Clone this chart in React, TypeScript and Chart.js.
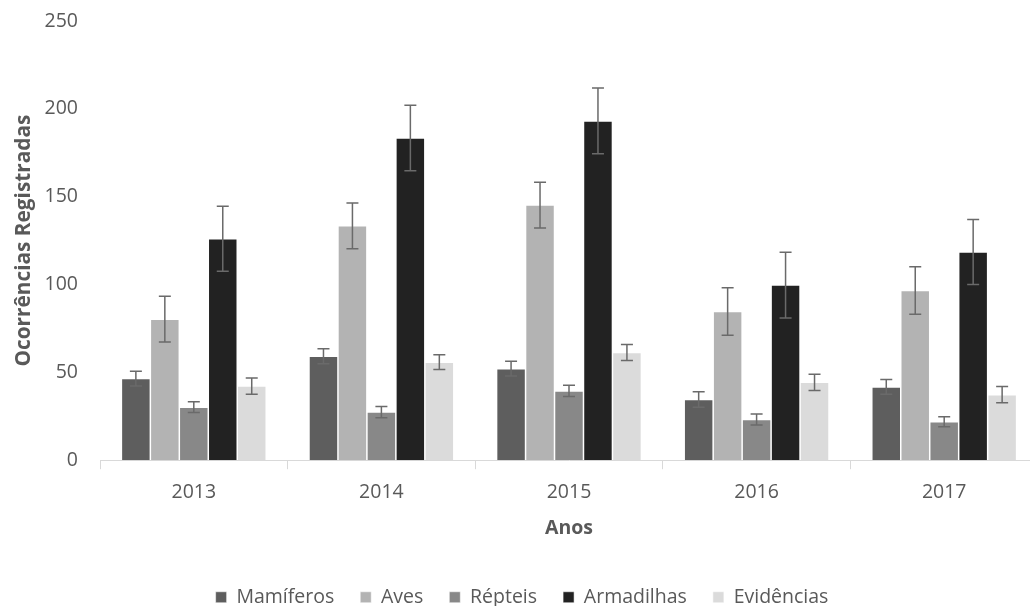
import React, { useEffect, useRef } from "react";
import { Chart, registerables } from "chart.js";

Chart.register(...registerables);

const categories = ["2013", "2014", "2015", "2016", "2017"];
const seriesNames = ["Mamíferos", "Aves", "Répteis", "Armadilhas", "Evidências"];

const mamiferos = [46.5, 59.2, 52.1, 34.5, 41.7];
const aves = [80.3, 133.4, 145.2, 84.6, 96.6];
const repteis = [30.2, 27.4, 39.4, 23.2, 21.9];
const armadilhas = [126.0, 183.4, 193.1, 99.7, 118.5];
const evidencias = [42.2, 55.8, 61.3, 44.3, 37.3];

const mamiferosErr = [4.2, 4.3, 4.2, 4.4, 4.2];
const avesErr = [13.0, 13.0, 13.0, 13.5, 13.5];
const repteisErr = [3.1, 3.2, 3.2, 3.1, 2.8];
const armadilhasErr = [18.5, 18.7, 18.7, 18.7, 18.5];
const evidenciasErr = [4.6, 4.2, 4.5, 4.6, 4.6];

const yTicks = [0, 50, 100, 150, 200, 250];

const colors = ["#5e5e5e", "#b3b3b3", "#888888", "#222222", "#dbdbdb"];
const FONT = "'Open Sans', 'Noto Sans', sans-serif";
const TEXT = "#595959";

const errorBarPlugin = {
  id: "errorBars",
  afterDatasetsDraw(chart: any) {
    const ctx = chart.ctx;
    const yScale = chart.scales.y;
    ctx.save();
    ctx.strokeStyle = "#6a6a6a";
    ctx.lineWidth = 1.5;
    chart.data.datasets.forEach((ds: any, i: number) => {
      const meta = chart.getDatasetMeta(i);
      meta.data.forEach((bar: any, j: number) => {
        const v = ds.data[j];
        const e = ds.errors[j];
        const x = bar.x;
        const yt = yScale.getPixelForValue(v + e);
        const yb = yScale.getPixelForValue(v - e);
        const cap = 6;
        ctx.beginPath();
        ctx.moveTo(x, yt);
        ctx.lineTo(x, yb);
        ctx.moveTo(x - cap, yt);
        ctx.lineTo(x + cap, yt);
        ctx.moveTo(x - cap, yb);
        ctx.lineTo(x + cap, yb);
        ctx.stroke();
      });
    });
    ctx.restore();
  },
};

export default function App() {
  const ref = useRef<HTMLCanvasElement | null>(null);

  useEffect(() => {
    if (!ref.current) return;
    const values = [mamiferos, aves, repteis, armadilhas, evidencias];
    const errs = [mamiferosErr, avesErr, repteisErr, armadilhasErr, evidenciasErr];
    const chart = new Chart(ref.current, {
      type: "bar",
      data: {
        labels: categories,
        datasets: seriesNames.map((name, i) => ({
          label: name,
          data: values[i],
          errors: errs[i],
          backgroundColor: colors[i],
          borderColor: "rgba(255,255,255,0.7)",
          borderWidth: 0.75,
          categoryPercentage: 0.772,
          barPercentage: 1.0,
        })) as any,
      },
      options: {
        responsive: false,
        animation: false,
        devicePixelRatio: 1,
        layout: { padding: { left: 6, right: 10, top: 0, bottom: 0 } },
        plugins: {
          tooltip: { enabled: false },
          legend: {
            position: "bottom",
            labels: {
              color: TEXT,
              font: { family: FONT, size: 19.5 },
              boxWidth: 11,
              boxHeight: 11,
              padding: 26,
            },
          },
        },
        scales: {
          x: {
            grid: {
              display: true,
              drawOnChartArea: false,
              drawTicks: true,
              tickLength: 9,
              color: "#d9d9d9",
              offset: true,
            },
            border: { display: true, color: "#d9d9d9", width: 1 },
            ticks: {
              color: TEXT,
              font: { family: FONT, size: 19.5 },
              padding: 12,
            },
            title: {
              display: true,
              text: "Anos",
              color: TEXT,
              font: { family: FONT, size: 19.5, weight: "bold" },
              padding: { top: 0, bottom: 21.5 },
            },
          },
          y: {
            min: 0,
            max: 250,
            afterBuildTicks: (scale: any) => {
              scale.ticks = yTicks.map((v) => ({ value: v }));
            },
            afterFit: (scale: any) => {
              scale.width = 94;
              scale.paddingTop = 21;
              scale.paddingBottom = 0;
            },
            grid: { display: false, drawTicks: false },
            border: { display: false },
            ticks: {
              color: TEXT,
              font: { family: FONT, size: 19.5 },
              padding: 22,
            },
            title: {
              display: true,
              text: "Ocorrências Registradas",
              color: TEXT,
              font: { family: FONT, size: 20.8, weight: "bold" },
              padding: { top: 6, bottom: 0 },
            },
          },
        },
      },
      plugins: [errorBarPlugin],
    } as any);
    return () => chart.destroy();
  }, []);

  return (
    <div
      style={{
        position: "fixed",
        left: 0,
        top: 0,
        width: 1030,
        height: 606,
        overflow: "hidden",
        background: "#ffffff",
      }}
    >
      <canvas
        ref={ref}
        width={1048}
        height={617}
        style={{ width: 1048, height: 617, display: "block" }}
      />
    </div>
  );
}
